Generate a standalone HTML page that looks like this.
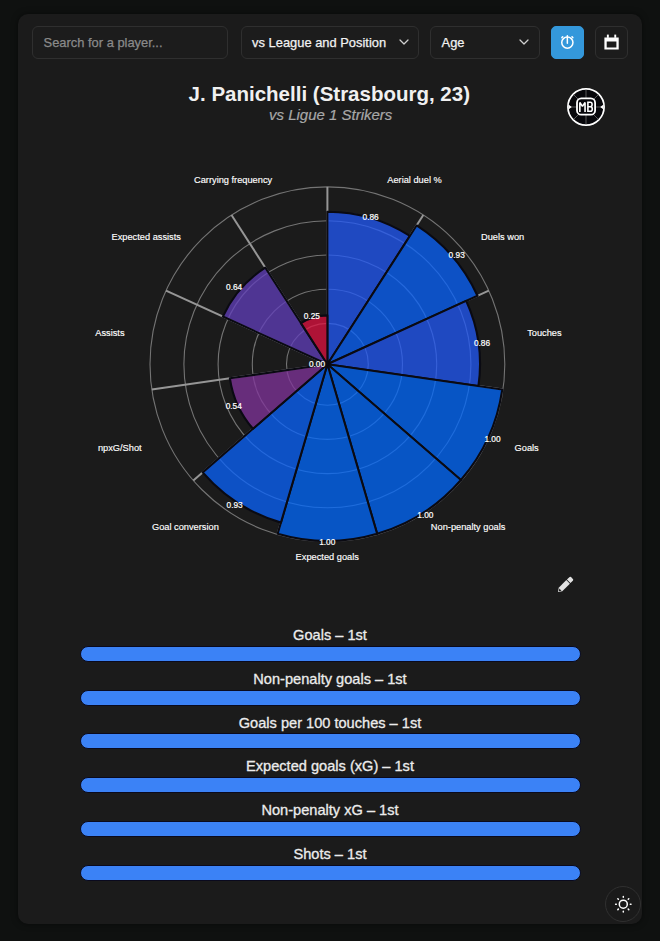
<!DOCTYPE html>
<html><head><meta charset="utf-8"><title>Player</title>
<style>
html,body{margin:0;padding:0;}
body{width:660px;height:941px;background:#0f1110;font-family:"Liberation Sans",sans-serif;position:relative;overflow:hidden;}
.card{position:absolute;left:18px;top:14px;width:624px;height:910px;background:#1b1b1b;border-radius:10px;box-shadow:0 0 6px rgba(0,0,0,.5);}
.box{-webkit-text-stroke:.25px;position:absolute;top:25.5px;height:33px;box-sizing:border-box;border:1px solid #2f2f2f;border-radius:6px;background:#1c1c1c;color:#f2f2f2;font-size:12.9px;line-height:31px;padding-left:10.6px;white-space:nowrap;}
.ph{color:#8a8a8a;}
.chev{position:absolute;top:12px;width:10px;height:6px;}
.title{position:absolute;left:-0.7px;width:660px;top:81.7px;text-align:center;color:#f0f0f0;font-weight:bold;font-size:20.5px;line-height:24px;}
.sub{-webkit-text-stroke:.2px;position:absolute;left:0.7px;width:660px;top:105.7px;text-align:center;color:#a8a8a8;font-style:italic;font-size:15px;line-height:18px;}
.chart{position:absolute;left:0;top:0;}
.vl{font-size:8.3px;fill:#fff;stroke:#fff;stroke-width:.2px;font-family:"Liberation Sans",sans-serif;}
.cl{font-size:9.25px;fill:#fff;stroke:#fff;stroke-width:.15px;font-family:"Liberation Sans",sans-serif;}
.bl{-webkit-text-stroke:.3px #ececec;position:absolute;left:0;width:660px;text-align:center;color:#ececec;font-size:14.6px;line-height:20px;}
.bar{position:absolute;left:79.5px;width:499px;height:14px;border:1px solid #0a0a1e;border-radius:9px;background:#3b82f6;}
.fab{position:absolute;left:605px;top:886px;width:36px;height:36px;box-sizing:border-box;border:1px solid #303030;border-radius:50%;background:#1a1a1a;}
</style></head><body>
<div class="card"></div>
<div class="box ph" style="left:32px;width:196.4px;">Search for a player...</div>
<div class="box" style="left:240.5px;width:178.5px;">vs League and Position<svg class="chev" style="left:157.200px" viewBox="0 0 10 6"><path d="M1 1L5 5L9 1" fill="none" stroke="#d0d0d0" stroke-width="1.25" stroke-linecap="round" stroke-linejoin="round"/></svg></div>
<div class="box" style="left:430px;width:110px;">Age<svg class="chev" style="left:87.600px" viewBox="0 0 10 6"><path d="M1 1L5 5L9 1" fill="none" stroke="#d0d0d0" stroke-width="1.25" stroke-linecap="round" stroke-linejoin="round"/></svg></div>
<div class="box" style="left:551px;width:33px;background:#3498db;border-color:#3498db;padding:0;border-radius:5px;">
<svg width="31" height="31" viewBox="0 0 31 31" style="position:absolute;left:0;top:0"><g fill="none" stroke="#fff" stroke-width="1.5" stroke-linecap="round"><circle cx="15.35" cy="15.6" r="5.6"/><path d="M15.35 16.2V8.7"/><path d="M10.700 9.700l-.8 .9M20 9.700l.8 .9"/></g></svg></div>
<div class="box" style="left:595px;width:33px;padding:0;">
<svg width="31" height="31" viewBox="0 0 31 31" style="position:absolute;left:0;top:0"><g fill="#fff"><path d="M8.4 10.5h14.3v12H8.4z M10.700 14.600v5.800h9.700v-5.800z" fill-rule="evenodd"/><rect x="10.900" y="7.600" width="1.9" height="3.200"/><rect x="18.300" y="7.600" width="1.9" height="3.200"/></g></svg></div>
<div class="title">J. Panichelli (Strasbourg, 23)</div>
<div class="sub">vs Ligue 1 Strikers</div>
<svg width="40" height="40" viewBox="-20 -20 40 40" style="position:absolute;left:566.2px;top:86.75px">
<circle r="18.1" fill="#07070b" stroke="#fff" stroke-width="1.7"/>
<g stroke="#9a9a9a" stroke-width="0.55"><path d="M0 -18V18M-18 0H18M-12.700 -12.700L12.700 12.700M-12.700 12.700L12.700 -12.700"/></g>
<path d="M-17.600 -2.600L-14.200 0L-17.600 2.600ZM17.600 -2.600L14.200 0L17.600 2.600Z" fill="#fff"/>
<rect x="-9" y="-8.600" width="18.100" height="16.300" rx="4.300" fill="#07070b" stroke="#fff" stroke-width="1.8"/>
<g fill="none" stroke="#fff" stroke-width="1.6" stroke-linejoin="miter"><path d="M-6.150 5V-4.600L-3.550 -0.600L-0.950 -4.600V5" stroke-linejoin="bevel"/><path d="M1.900 -4.700H4.300Q6.100 -4.700 6.100 -2.500Q6.100 -0.300 4.300 -0.300H1.900M1.900 -0.300H4.500Q6.300 -0.300 6.300 2Q6.300 4.300 4.500 4.300H1.900M1.900 -5.500V5.100"/></g>
</svg>
<svg class="chart" width="660" height="941" viewBox="0 0 660 941">
<circle cx="327.4" cy="364.3" r="40.90" fill="none" stroke="#747474" stroke-width="1.1"/>
<circle cx="327.4" cy="364.3" r="75.10" fill="none" stroke="#747474" stroke-width="1.1"/>
<circle cx="327.4" cy="364.3" r="109.30" fill="none" stroke="#747474" stroke-width="1.1"/>
<circle cx="327.4" cy="364.3" r="143.50" fill="none" stroke="#747474" stroke-width="1.1"/>
<circle cx="327.4" cy="364.3" r="177.40" fill="none" stroke="#747474" stroke-width="1.1"/>
<line x1="327.4" y1="364.3" x2="327.40" y2="186.90" stroke="#969696" stroke-width="2"/>
<line x1="327.4" y1="364.3" x2="423.31" y2="215.06" stroke="#969696" stroke-width="2"/>
<line x1="327.4" y1="364.3" x2="488.77" y2="290.61" stroke="#969696" stroke-width="2"/>
<line x1="327.4" y1="364.3" x2="502.99" y2="389.55" stroke="#969696" stroke-width="2"/>
<line x1="327.4" y1="364.3" x2="461.47" y2="480.47" stroke="#969696" stroke-width="2"/>
<line x1="327.4" y1="364.3" x2="377.38" y2="534.51" stroke="#969696" stroke-width="2"/>
<line x1="327.4" y1="364.3" x2="277.42" y2="534.51" stroke="#969696" stroke-width="2"/>
<line x1="327.4" y1="364.3" x2="193.33" y2="480.47" stroke="#969696" stroke-width="2"/>
<line x1="327.4" y1="364.3" x2="151.81" y2="389.55" stroke="#969696" stroke-width="2"/>
<line x1="327.4" y1="364.3" x2="166.03" y2="290.61" stroke="#969696" stroke-width="2"/>
<line x1="327.4" y1="364.3" x2="231.49" y2="215.06" stroke="#969696" stroke-width="2"/>
<path d="M327.4 364.3L327.40 211.70A152.60 152.60 0 0 1 409.90 235.92Z" fill="rgb(34, 90, 250)" fill-opacity="0.75" stroke="#0a0a12" stroke-width="2.1" stroke-linejoin="round"/>
<path d="M327.4 364.3L416.61 225.49A165.00 165.00 0 0 1 477.49 295.76Z" fill="rgb(10, 100, 255)" fill-opacity="0.75" stroke="#0a0a12" stroke-width="2.1" stroke-linejoin="round"/>
<path d="M327.4 364.3L466.21 300.91A152.60 152.60 0 0 1 478.45 386.02Z" fill="rgb(34, 90, 250)" fill-opacity="0.75" stroke="#0a0a12" stroke-width="2.1" stroke-linejoin="round"/>
<path d="M327.4 364.3L502.30 389.45A176.70 176.70 0 0 1 460.94 480.01Z" fill="rgb(2, 106, 255)" fill-opacity="0.75" stroke="#0a0a12" stroke-width="2.1" stroke-linejoin="round"/>
<path d="M327.4 364.3L460.94 480.01A176.70 176.70 0 0 1 377.18 533.84Z" fill="rgb(2, 106, 255)" fill-opacity="0.75" stroke="#0a0a12" stroke-width="2.1" stroke-linejoin="round"/>
<path d="M327.4 364.3L377.18 533.84A176.70 176.70 0 0 1 277.62 533.84Z" fill="rgb(2, 106, 255)" fill-opacity="0.75" stroke="#0a0a12" stroke-width="2.1" stroke-linejoin="round"/>
<path d="M327.4 364.3L280.91 522.62A165.00 165.00 0 0 1 202.70 472.35Z" fill="rgb(10, 100, 255)" fill-opacity="0.75" stroke="#0a0a12" stroke-width="2.1" stroke-linejoin="round"/>
<path d="M327.4 364.3L252.96 428.80A98.50 98.50 0 0 1 229.90 378.32Z" fill="rgb(130, 52, 156)" fill-opacity="0.75" stroke="#0a0a12" stroke-width="2.1" stroke-linejoin="round"/>
<path d="M327.4 364.3L222.88 316.57A114.90 114.90 0 0 1 265.28 267.64Z" fill="rgb(98, 63, 188)" fill-opacity="0.75" stroke="#0a0a12" stroke-width="2.1" stroke-linejoin="round"/>
<path d="M327.4 364.3L300.96 323.16A48.90 48.90 0 0 1 327.40 315.40Z" fill="rgb(224, 18, 64)" fill-opacity="0.75" stroke="#0a0a12" stroke-width="2.1" stroke-linejoin="round"/>
<text x="370.6" y="220" text-anchor="middle" class="vl">0.86</text>
<text x="456.7" y="258" text-anchor="middle" class="vl">0.93</text>
<text x="482" y="346" text-anchor="middle" class="vl">0.86</text>
<text x="492.5" y="441.75" text-anchor="middle" class="vl">1.00</text>
<text x="425.4" y="518" text-anchor="middle" class="vl">1.00</text>
<text x="327.25" y="545.25" text-anchor="middle" class="vl">1.00</text>
<text x="234.6" y="507.5" text-anchor="middle" class="vl">0.93</text>
<text x="233.75" y="409" text-anchor="middle" class="vl">0.54</text>
<text x="317" y="366.9" text-anchor="middle" class="vl">0.00</text>
<text x="234.1" y="290" text-anchor="middle" class="vl">0.64</text>
<text x="311.8" y="319.4" text-anchor="middle" class="vl">0.25</text>
<text x="414.50" y="183.2" text-anchor="middle" class="cl">Aerial duel %</text>
<text x="502.65" y="240" text-anchor="middle" class="cl">Duels won</text>
<text x="544.40" y="335.75" text-anchor="middle" class="cl">Touches</text>
<text x="526.65" y="451" text-anchor="middle" class="cl">Goals</text>
<text x="468.12" y="530.25" text-anchor="middle" class="cl">Non-penalty goals</text>
<text x="327.25" y="559.5" text-anchor="middle" class="cl">Expected goals</text>
<text x="185.38" y="530" text-anchor="middle" class="cl">Goal conversion</text>
<text x="119.75" y="450.75" text-anchor="middle" class="cl">npxG/Shot</text>
<text x="109.88" y="335.5" text-anchor="middle" class="cl">Assists</text>
<text x="146.25" y="240" text-anchor="middle" class="cl">Expected assists</text>
<text x="233.10" y="183.2" text-anchor="middle" class="cl">Carrying frequency</text>
</svg>
<svg width="30" height="30" viewBox="-15 -15 30 30" style="position:absolute;left:550px;top:569.6px"><g transform="rotate(-45)" fill="#e2e2e2"><path d="M-9.850 0L-6.400 -2.500H4.400V2.500H-6.400Z"/><path d="M5.200 -2.500H8.600Q9.850 -2.500 9.850 -1.300V1.300Q9.850 2.500 8.600 2.500H5.200Z"/><path d="M-8.700 0L-6.500 -1.550V1.550Z" fill="#1b1b1b"/></g></svg>
<div class="bl" style="top:625.00px">Goals – 1st</div><div class="bar" style="top:645.80px"></div>
<div class="bl" style="top:668.75px">Non-penalty goals – 1st</div><div class="bar" style="top:689.55px"></div>
<div class="bl" style="top:712.50px">Goals per 100 touches – 1st</div><div class="bar" style="top:733.30px"></div>
<div class="bl" style="top:756.25px">Expected goals (xG) – 1st</div><div class="bar" style="top:777.05px"></div>
<div class="bl" style="top:800.00px">Non-penalty xG – 1st</div><div class="bar" style="top:820.80px"></div>
<div class="bl" style="top:843.75px">Shots – 1st</div><div class="bar" style="top:864.55px"></div>

<div class="fab"><svg width="34" height="34" viewBox="-17 -17 34 34" style="position:absolute;left:0;top:0"><g fill="none" stroke="#fff" stroke-width="1.5" stroke-linecap="round"><circle cx="0.3" cy="0.2" r="4"/><path d="M0.3 -6.8v-.7M0.3 7.200v.7M-6.700 0.200h-.7M7.300 0.200h.7M-4.650 -4.750l-.5 -.5M5.250 -4.750l.5 -.5M-4.650 5.150l-.5 .5M5.250 5.150l.5 .5"/></g></svg></div>
</body></html>
